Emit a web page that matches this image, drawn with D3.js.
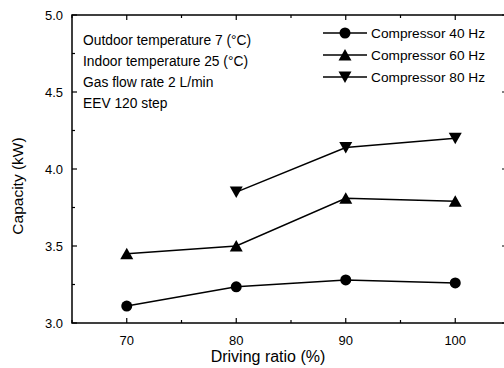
<!DOCTYPE html>
<html>
<head>
<meta charset="utf-8">
<script src="https://cdn.jsdelivr.net/npm/d3@7"></script>
<style>
  body { margin: 0; background: #fff; }
  svg { display: block; font-family: "Liberation Sans", Arial, sans-serif; }
</style>
</head>
<body>
<div id="chart"></div>
<script>
var ratios = [70, 80, 90, 100];
var cap40 = [3.11, 3.235, 3.28, 3.26];
var cap60 = [3.45, 3.50, 3.81, 3.79];
var cap80 = [null, 3.85, 4.14, 4.20];
var seriesNames = ["Compressor 40 Hz", "Compressor 60 Hz", "Compressor 80 Hz"];
var notes = ["Outdoor temperature 7 (\u00b0C)", "Indoor temperature 25 (\u00b0C)", "Gas flow rate 2 L/min", "EEV 120 step"];
var xTicks = [70, 80, 90, 100];
var yTicks = [3.0, 3.5, 4.0, 4.5, 5.0];

var width = 504, height = 368;
var margin = { left: 72, top: 15, right: -6, bottom: 45 };

var svg = d3.select("#chart").append("svg")
  .attr("width", width)
  .attr("height", height);

var x = d3.scaleLinear().domain([65, 105]).range([margin.left, width - margin.right]);
var y = d3.scaleLinear().domain([3.0, 5.0]).range([height - margin.bottom, margin.top]);

var x0 = x.range()[0], x1 = x.range()[1];
var y0 = y.range()[0], y1 = y.range()[1];

// frame
svg.append("rect")
  .attr("x", x0).attr("y", y1)
  .attr("width", x1 - x0).attr("height", y0 - y1)
  .attr("fill", "none").attr("stroke", "#000").attr("stroke-width", 1.5);

var minorX = d3.range(65, 106, 5);
var minorY = d3.range(3.0, 5.01, 0.25);

function isMajorX(v) { return v % 10 === 0; }
function isMajorY(v) { return Math.abs(v * 2 - Math.round(v * 2)) < 1e-6; }

// x ticks bottom and top, y ticks left and right (all inward)
minorX.forEach(function (v) {
  var len = isMajorX(v) ? 5 : 3;
  svg.append("line").attr("x1", x(v)).attr("x2", x(v))
    .attr("y1", y0).attr("y2", y0 - len).attr("stroke", "#000").attr("stroke-width", 1.2);
  svg.append("line").attr("x1", x(v)).attr("x2", x(v))
    .attr("y1", y1).attr("y2", y1 + len).attr("stroke", "#000").attr("stroke-width", 1.2);
});
minorY.forEach(function (v) {
  var len = isMajorY(v) ? 5 : 3;
  svg.append("line").attr("y1", y(v)).attr("y2", y(v))
    .attr("x1", x0).attr("x2", x0 + len).attr("stroke", "#000").attr("stroke-width", 1.2);
  svg.append("line").attr("y1", y(v)).attr("y2", y(v))
    .attr("x1", x1).attr("x2", x1 - (isMajorY(v) ? 8 : 3)).attr("stroke", "#000").attr("stroke-width", 1.2);
});

svg.selectAll(".xlab").data(xTicks).enter().append("text")
  .attr("x", function (d) { return x(d); })
  .attr("y", y0 + 21.5)
  .attr("text-anchor", "middle")
  .attr("font-size", 13)
  .text(function (d) { return d; });

svg.selectAll(".ylab").data(yTicks).enter().append("text")
  .attr("x", x0 - 9)
  .attr("y", function (d) { return y(d) + 4.5; })
  .attr("text-anchor", "end")
  .attr("font-size", 13)
  .text(function (d) { return d.toFixed(1); });

svg.append("text")
  .attr("x", 268).attr("y", 362)
  .attr("text-anchor", "middle")
  .attr("font-size", 16)
  .text("Driving ratio (%)");

svg.append("text")
  .attr("transform", "translate(23,186) rotate(-90)")
  .attr("text-anchor", "middle")
  .attr("font-size", 15.5)
  .text("Capacity (kW)");

// notes
svg.selectAll(".note").data(notes).enter().append("text")
  .attr("x", 83)
  .attr("y", function (d, i) { return 45 + i * 21; })
  .attr("font-size", 13.8)
  .text(function (d) { return d; });

// series
var series = [
  { name: seriesNames[0], values: cap40, shape: "circle" },
  { name: seriesNames[1], values: cap60, shape: "up" },
  { name: seriesNames[2], values: cap80, shape: "down" }
];

var line = d3.line()
  .defined(function (d) { return d.v !== null; })
  .x(function (d) { return x(d.r); })
  .y(function (d) { return y(d.v); });

function marker(g, shape, cx, cy) {
  if (shape === "circle") {
    g.append("circle").attr("cx", cx).attr("cy", cy).attr("r", 5.5).attr("fill", "#000");
  } else {
    var s = shape === "up" ? 1 : -1;
    var p = [[cx - 6.5, cy + 5.5 * s], [cx + 6.5, cy + 5.5 * s], [cx, cy - 6 * s]];
    g.append("path").attr("d", "M" + p.join("L") + "Z").attr("fill", "#000");
  }
}

series.forEach(function (s) {
  var pts = ratios.map(function (r, i) { return { r: r, v: s.values[i] }; });
  svg.append("path")
    .attr("d", line(pts))
    .attr("fill", "none").attr("stroke", "#000").attr("stroke-width", 1.5);
  var g = svg.append("g");
  pts.forEach(function (d) {
    if (d.v !== null) marker(g, s.shape, x(d.r), y(d.v));
  });
});

// legend
series.forEach(function (s, i) {
  var ly = 33 + i * 22;
  svg.append("line").attr("x1", 323).attr("x2", 367)
    .attr("y1", ly).attr("y2", ly).attr("stroke", "#000").attr("stroke-width", 1.5);
  marker(svg, s.shape, 345, ly);
  svg.append("text").attr("x", 371).attr("y", ly + 5)
    .attr("font-size", 13.7).text(s.name);
});
</script>
</body>
</html>
